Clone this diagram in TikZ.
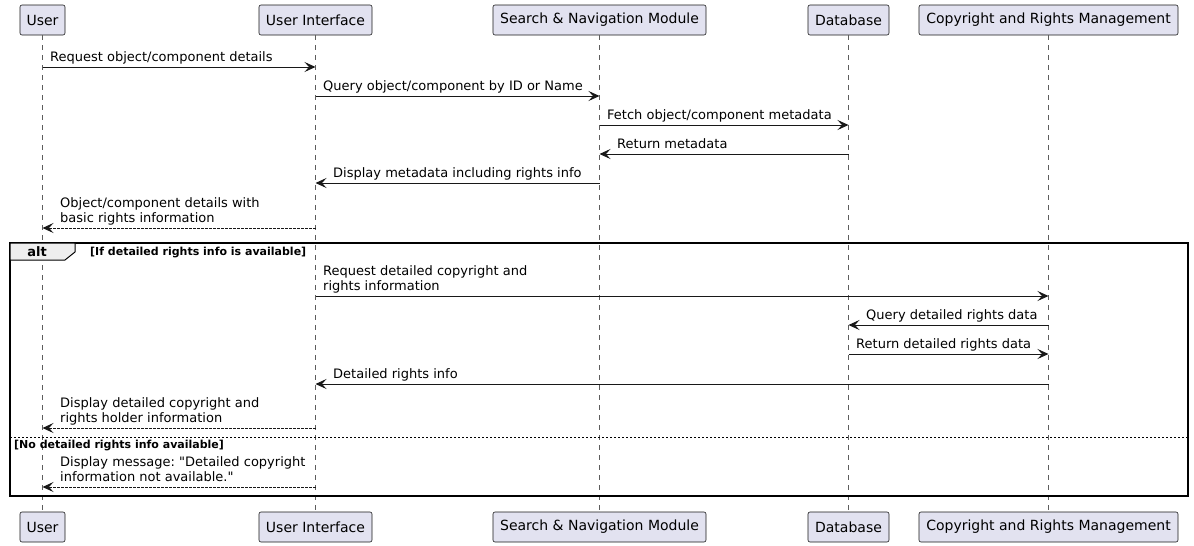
\documentclass[tikz,border=0pt]{standalone}
\usepackage{fontspec}
\setmainfont{DejaVu Sans}[Ligatures=TeXOff]
\frenchspacing
\usetikzlibrary{arrows.meta}
\definecolor{pfill}{HTML}{E2E2F0}
\definecolor{pline}{HTML}{181818}
\definecolor{tabfill}{HTML}{EEEEEE}
\tikzset{
  part/.style={draw=pline, fill=pfill, rounded corners=2pt, line width=0.6pt, minimum height=30pt, inner sep=0pt, font=\fontsize{14}{16}\selectfont},
  life/.style={draw=pline!70, line width=0.5pt, dash pattern=on 5pt off 5pt},
  msg/.style={draw=pline, line width=0.9pt, -{Stealth[length=11pt,width=10pt,inset=4.5pt]}},
  rmsg/.style={msg, dash pattern=on 2.5pt off 1.5pt},
  mtxt/.style={anchor=south west, inner sep=0pt, text depth=0pt, align=left, font=\fontsize{13}{15}\selectfont},
  cond/.style={anchor=base west, inner sep=0pt, font=\fontsize{11}{13}\selectfont\bfseries},
}
\begin{document}
\begin{tikzpicture}[x=1pt,y=-1pt]
\useasboundingbox (0,0) rectangle (1194,546);
% participants top
\node[part, minimum width=45pt]  (uT) at (42.5,20) {User};
\node[part, minimum width=113pt] (iT) at (315.5,20) {User Interface};
\node[part, minimum width=213pt] (sT) at (599.5,20) {Search \& Navigation Module};
\node[part, minimum width=81pt]  (dT) at (848.5,20) {Database};
\node[part, minimum width=259pt] (cT) at (1048.5,20) {Copyright and Rights Management};
% participants bottom
\node[part, minimum width=45pt]  (uB) at (42.5,527) {User};
\node[part, minimum width=113pt] (iB) at (315.5,527) {User Interface};
\node[part, minimum width=213pt] (sB) at (599.5,527) {Search \& Navigation Module};
\node[part, minimum width=81pt]  (dB) at (848.5,527) {Database};
\node[part, minimum width=259pt] (cB) at (1048.5,527) {Copyright and Rights Management};
% lifelines
\foreach \p in {u,i,s,d,c} \draw[life] (\p T.south) -- (\p B.north);
% alt frame
\draw[line width=1.5pt, draw=black] (10,243) rectangle (1188,496);
\draw[line width=1pt, fill=tabfill] (10,243) -- (75,243) -- (75,252) -- (65,260) -- (10,260) -- cycle;
\node[inner sep=0pt, font=\fontsize{13}{15}\selectfont\bfseries] (alt) at (37,252) {alt};
\node[cond] (c1) at (90,255) {[If detailed rights info is available]};
\draw[line width=0.8pt, dash pattern=on 2pt off 2pt] (10,437) -- (1188,437);
\node[cond] (c2) at (14,448) {[No detailed rights info available]};
% messages
\draw[msg] (uT.south |- 0,67) -- (iT.south |- 0,67);
\node[mtxt] (t1) at (50,62) {Request object/component details};
\draw[msg] (iT.south |- 0,96) -- (sT.south |- 0,96);
\node[mtxt] (t2) at (323,91) {Query object/component by ID or Name};
\draw[msg] (sT.south |- 0,125) -- (dT.south |- 0,125);
\node[mtxt] (t3) at (607,120) {Fetch object/component metadata};
\draw[msg] (dT.south |- 0,154) -- (sT.south |- 0,154);
\node[mtxt] (t4) at (617,149) {Return metadata};
\draw[msg] (sT.south |- 0,183) -- (iT.south |- 0,183);
\node[mtxt] (t5) at (333,178) {Display metadata including rights info};
\draw[rmsg] (iT.south |- 0,228) -- (uT.south |- 0,228);
\node[mtxt] (t6) at (60,223) {Object/component details with\\basic rights information};
\draw[msg] (iT.south |- 0,296) -- (cT.south |- 0,296);
\node[mtxt] (t7) at (323,291) {Request detailed copyright and\\rights information};
\draw[msg] (cT.south |- 0,325) -- (dT.south |- 0,325);
\node[mtxt] (t8) at (866,320) {Query detailed rights data};
\draw[msg] (dT.south |- 0,354) -- (cT.south |- 0,354);
\node[mtxt] (t9) at (856,349) {Return detailed rights data};
\draw[msg] (cT.south |- 0,384) -- (iT.south |- 0,384);
\node[mtxt] (t10) at (333,379) {Detailed rights info};
\draw[rmsg] (iT.south |- 0,428) -- (uT.south |- 0,428);
\node[mtxt] (t11) at (60,423) {Display detailed copyright and\\rights holder information};
\draw[rmsg] (iT.south |- 0,487) -- (uT.south |- 0,487);
\node[mtxt] (t12) at (60,482) {Display message: "Detailed copyright\\information not available."};
\end{tikzpicture}
\end{document}
